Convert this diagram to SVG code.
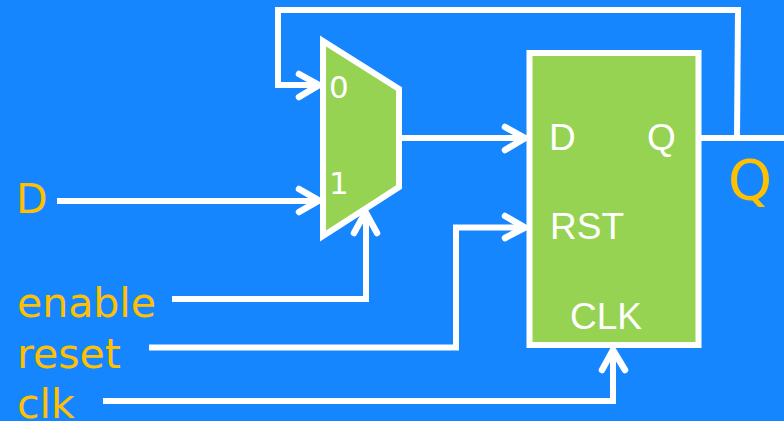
<svg xmlns="http://www.w3.org/2000/svg" width="784" height="421" viewBox="0 0 784 421">
<style>
.w{fill:none;stroke:#fff;stroke-width:6;stroke-linejoin:miter}
.h{fill:none;stroke:#fff;stroke-width:6.500;stroke-linecap:round;stroke-linejoin:miter}
.l{font-family:"DejaVu Sans",sans-serif;fill:#ffc000;font-size:41px}
.t{font-family:"Liberation Sans",sans-serif;fill:#fff;font-size:37px}
.n{font-family:"DejaVu Sans",sans-serif;fill:#fff;font-size:31px}
</style>
<rect width="784" height="421" fill="#1686ff"/>
<g id="mux"><polygon points="323,41 399,89 399,187 323,236" fill="#97d352" stroke="#fff" stroke-width="6"/>
<text class="n" x="329" y="98">0</text><text class="n" x="329" y="194">1</text></g>
<g id="ff"><rect x="529.5" y="53" width="169" height="292" fill="#97d352" stroke="#fff" stroke-width="6"/>
<text class="t" x="549" y="150">D</text><text class="t" x="647" y="150">Q</text><text class="t" x="550" y="239">RST</text><text class="t" x="570" y="329">CLK</text></g>
<g id="connectors">
<path class="w" d="M737 138L738 10H278V85H318"/><path class="h" d="M299 74L319 85L299 97"/>
<path class="w" d="M57 201H318"/><path class="h" d="M299 189L319 200.500L299 212"/>
<path class="w" d="M172 299H366V214"/><path class="h" d="M354 233L365.500 212L377 233"/>
<path class="w" d="M149 347.500H456V227.500H524"/><path class="h" d="M505 216L525 227.500L505 238"/>
<path class="w" d="M103 401H613V352"/><path class="h" d="M602 370L613 350L625 370"/>
<path class="w" d="M401 138H524"/><path class="h" d="M505 127L525 138L505 150"/>
<path class="w" d="M700 138H784"/>
</g>
<g id="labels"><text class="l" x="16" y="213">D</text><text class="l" x="17" y="317">enable</text><text class="l" x="17" y="368">reset</text><text class="l" x="17" y="418">clk</text><text class="l" x="728" y="199" style="font-size:56px">Q</text></g>
</svg>
